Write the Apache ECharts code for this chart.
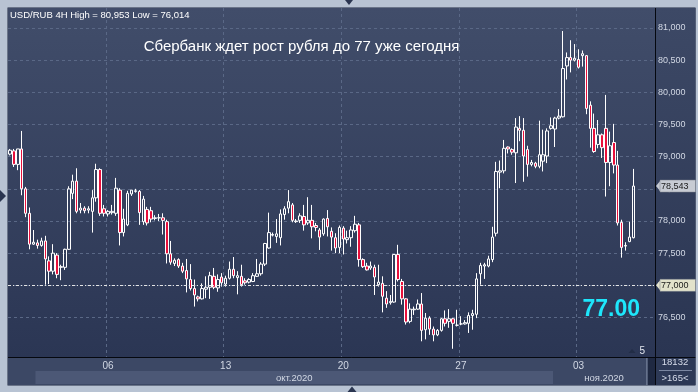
<!DOCTYPE html>
<html><head><meta charset="utf-8">
<script src="https://cdn.jsdelivr.net/npm/echarts@6/dist/echarts.min.js"></script>
<style>html,body{margin:0;padding:0;background:#b8c3d3}#c{width:698px;height:392px}</style>
</head><body><div id="c"></div>
<script>
const opens = [
79.04,79.09,78.88,79.12,78.50,78.12,77.64,77.66,77.62,77.69,
77.38,77.22,77.47,77.28,77.28,77.56,78.43,78.62,78.17,78.20,
78.17,78.15,78.36,78.80,78.19,78.11,78.13,78.12,78.48,77.82,
77.94,78.42,78.46,78.46,77.99,78.18,78.16,78.04,78.05,78.05,
77.99,77.49,77.34,77.40,77.30,77.23,77.09,76.95,76.82,76.79,
76.94,76.97,77.14,76.96,77.13,77.02,77.11,77.25,77.12,77.14,
77.07,77.05,77.06,77.14,77.18,77.33,77.58,77.78,77.76,77.74,
78.10,78.20,78.25,77.99,78.01,78.07,77.97,78.01,77.93,77.86,
77.80,78.04,77.84,77.74,77.59,77.89,77.71,77.74,77.85,77.94,
77.40,77.30,77.27,77.28,77.01,77.03,76.80,76.73,76.74,77.48,
77.06,76.79,76.44,76.62,76.63,76.71,76.31,76.49,76.32,76.23,
76.30,76.48,76.44,76.48,76.38,76.40,76.40,76.41,76.53,76.55,
77.18,77.30,77.30,77.40,77.81,78.76,78.78,79.15,79.11,79.06,
79.44,79.41,79.11,78.88,78.90,78.85,78.93,79.01,79.44,79.43,
79.60,79.62,80.41,80.54,80.50,80.51,80.57,80.57,79.80,79.44,
79.19,79.34,79.44,78.91,79.22,78.87,77.98,77.61,77.68,77.74];
const highs = [
79.12,79.12,79.12,79.40,78.53,78.21,77.86,77.71,77.74,77.77,
77.45,77.64,77.50,77.32,77.57,78.54,78.72,78.82,78.28,78.23,
78.23,78.48,78.89,78.82,78.25,78.17,78.25,78.67,78.51,78.19,
78.47,78.48,78.50,78.48,78.39,78.22,78.22,78.09,78.11,78.12,
78.02,77.69,77.42,77.42,77.35,77.41,77.33,77.09,76.84,77.03,
77.14,77.21,77.27,77.17,77.19,77.15,77.37,77.44,77.22,77.32,
77.11,77.11,77.19,77.41,77.36,77.66,78.13,77.82,78.03,78.18,
78.23,78.48,78.28,78.03,78.12,78.25,78.37,78.25,77.97,77.89,
78.04,78.17,77.90,77.81,77.93,77.92,77.85,77.92,78.08,77.97,
77.42,77.35,77.37,77.32,77.32,77.14,76.91,76.85,77.48,77.63,
77.10,76.80,76.72,76.67,76.78,76.88,76.57,76.52,76.36,76.32,
76.49,76.61,76.63,76.49,76.62,76.52,76.46,76.58,76.62,77.19,
77.35,77.35,77.46,77.91,78.92,78.94,79.26,79.16,79.13,79.60,
79.63,79.60,79.17,78.95,78.92,79.56,79.42,79.44,79.61,79.62,
79.74,80.953,80.62,80.81,80.75,80.67,80.65,80.58,79.86,79.67,
79.57,79.36,79.96,79.39,79.51,79.09,78.02,77.67,77.99,78.81];
const lows = [
79.02,78.84,78.79,78.40,78.06,77.56,77.63,77.57,77.60,77.01,
77.02,77.17,77.11,77.08,77.24,77.55,78.34,78.12,78.12,78.12,
78.12,77.82,78.30,78.08,78.07,78.07,78.10,78.08,77.62,77.76,
77.92,78.39,78.44,77.94,77.94,77.93,77.98,78.01,78.00,77.79,
77.34,77.32,77.30,77.27,77.19,76.89,76.92,76.67,76.75,76.78,
76.80,76.79,76.94,76.90,76.98,76.98,77.09,77.11,76.86,76.98,
77.01,77.03,77.05,77.13,77.15,77.30,77.57,77.76,77.66,77.62,
78.02,78.12,77.98,77.97,77.97,77.85,77.94,77.73,77.84,77.55,
77.77,77.76,77.54,77.50,77.50,77.48,77.65,77.60,77.82,77.29,
77.27,77.23,77.24,76.85,76.98,76.58,76.65,76.70,76.73,77.06,
76.70,76.39,76.41,76.54,76.62,76.13,76.16,76.23,76.13,76.21,
76.28,76.36,76.34,76.014,76.36,76.38,76.39,76.26,76.31,76.49,
77.01,77.10,77.28,77.36,77.76,78.51,78.74,79.05,79.03,78.59,
79.24,78.61,78.69,78.85,78.82,78.82,78.77,78.90,79.42,79.15,
79.58,79.61,80.20,80.31,80.48,80.37,80.40,79.66,79.14,79.06,
79.13,78.98,78.38,78.54,78.74,77.93,77.43,77.54,77.67,77.73];
const closes = [
79.10,78.88,79.12,78.50,78.12,77.64,77.67,77.62,77.69,77.41,
77.22,77.50,77.17,77.29,77.56,78.50,78.62,78.15,78.20,78.16,
78.19,78.36,78.80,78.12,78.12,78.15,78.15,78.51,77.82,78.03,
78.43,78.48,78.47,78.13,78.34,77.97,78.03,78.05,78.05,78.01,
77.49,77.36,77.39,77.30,77.22,77.10,76.95,76.85,76.79,76.95,
76.97,77.15,76.97,77.09,77.04,77.11,77.25,77.15,77.15,77.01,
77.04,77.09,77.15,77.18,77.33,77.65,77.82,77.79,77.80,78.11,
78.19,78.30,78.01,78.00,78.08,77.94,78.01,77.91,77.90,77.75,
78.03,77.91,77.75,77.58,77.90,77.72,77.74,77.86,77.95,77.40,
77.29,77.24,77.30,77.13,77.05,76.83,76.71,76.75,77.48,77.09,
76.79,76.43,76.63,76.63,76.71,76.30,76.49,76.32,76.23,76.30,
76.48,76.41,76.48,76.41,76.38,76.40,76.42,76.53,76.56,77.10,
77.31,77.32,77.41,77.75,78.77,78.78,79.13,79.12,79.07,79.46,
79.41,79.01,78.88,78.91,78.85,79.03,79.03,79.40,79.48,79.60,
79.63,80.37,80.54,80.50,80.53,80.39,80.60,79.75,79.44,79.08,
79.34,79.14,78.91,79.17,78.87,77.97,77.59,77.62,77.75,78.543];

const yTickValues = [76.5,77,77.5,78,78.5,79,79.5,80,80.5,81];
const xTickDates = ['2020-10-06 00:00','2020-10-13 00:00','2020-10-20 00:00','2020-10-27 00:00','2020-11-03 00:00'];
const xTickLabels = ['06','13','20','27','03'];
const monthStarts = ['2020-10-01 00:00','2020-11-02 00:00'];
const monthLabels = ['окт.2020','ноя.2020'];
const dayMarkDate = '2020-11-05 00:00';
const dayMarkLabel = '5';
const slotCount = 165;
const levelValue = 77.0;
const targetText = '77.00';
const titleText = 'Сбербанк ждет рост рубля до 77 уже сегодня';
const symbolText = 'USD/RUB 4H';
const infoTop = '18132';
const infoBottom = '>165<';

// 4H trading-session categories (Mon-Fri)
const categories = [];
(function(){
  let t = Date.UTC(2020, 8, 29, 20);
  const pad = n => (n < 10 ? '0' : '') + n;
  for (let i = 0; i < slotCount; i++) {
    const d = new Date(t);
    categories.push(d.getUTCFullYear() + '-' + pad(d.getUTCMonth()+1) + '-' + pad(d.getUTCDate()) + ' ' + pad(d.getUTCHours()) + ':00');
    t += 4*3600e3;
    while ([0,6].includes(new Date(t).getUTCDay())) t += 4*3600e3;
  }
})();
const tickIdx = xTickDates.map(s => categories.indexOf(s));
const candleData = opens.map((o, i) => [o, closes[i], lows[i], highs[i]]);
const lastPrice = closes[closes.length - 1];
const fmt = v => v.toFixed(3).replace('.', ',');

const FONT = 'Liberation Sans, Arial, sans-serif';
const GRID_L = 8, GRID_T = 8, GRID_W = 647, GRID_H = 349;
const gridColor = '#5a6886';

const staticGraphic = [
  {type:'rect', z:-20, shape:{x:7.5,y:7.5,width:688,height:378}, style:{fill:'#1e2841'}},
  {type:'rect', z:-19, shape:{x:GRID_L,y:GRID_T,width:GRID_W,height:GRID_H},
   style:{fill:new echarts.graphic.LinearGradient(0,0,0,1,[{offset:0,color:'#414d6a'},{offset:1,color:'#2b3654'}])}},
  {type:'rect', z:-19, shape:{x:656,y:8,width:39.5,height:349},
   style:{fill:new echarts.graphic.LinearGradient(0,0,0,1,[{offset:0,color:'#3d4966'},{offset:1,color:'#2a3552'}])}},
  {type:'rect', z:-19, shape:{x:8,y:358,width:647,height:27}, style:{fill:'#3c4865'}},
  {type:'rect', z:-19, shape:{x:656,y:358,width:39.5,height:27}, style:{fill:'#2d3956'}},
  {type:'rect', z:-18, shape:{x:646,y:358,width:1.5,height:27}, style:{fill:'#66728c'}},
  {type:'rect', z:-18, shape:{x:648,y:358,width:7,height:27}, style:{fill:'#1f2942'}},
  {type:'line', z:50, shape:{x1:655.5,y1:8,x2:655.5,y2:385}, style:{stroke:'#05080f',lineWidth:1}},
  {type:'line', z:50, shape:{x1:8,y1:357.5,x2:695.5,y2:357.5}, style:{stroke:'#05080f',lineWidth:1}},
  {type:'line', z:50, shape:{x1:659,y1:370.5,x2:692,y2:370.5}, style:{stroke:'#7b87a1',lineWidth:1}},
  {type:'polygon', z:50, shape:{points:[[345,0],[353,0],[349,5]]}, style:{fill:'#2a3550'}},
  {type:'polygon', z:50, shape:{points:[[347.5,392],[356.5,392],[352,386.5]]}, style:{fill:'#2a3550'}},
  {type:'polygon', z:50, shape:{points:[[0,190],[0,202],[6,196]]}, style:{fill:'#2a3550'}},
  {type:'text', z:60, x:10, y:15, style:{text:symbolText + ' High = ' + fmt(Math.max(...highs)) + ' Low = ' + fmt(Math.min(...lows)),
     fill:'#ffffff', font:'9.5px ' + FONT, verticalAlign:'middle'}},
  {type:'text', z:60, x:301.5, y:47, style:{text:titleText, fill:'#ffffff', font:'15px ' + FONT, align:'center', verticalAlign:'middle'}},
  {type:'text', z:60, x:640, y:310, style:{text:targetText, fill:'#1ee6fb', font:'bold 23px ' + FONT, align:'right', verticalAlign:'middle'}},
  {type:'text', z:60, x:675, y:362, style:{text:infoTop, fill:'#d6dcea', font:'9.5px ' + FONT, align:'center', verticalAlign:'middle'}},
  {type:'text', z:60, x:675, y:378, style:{text:infoBottom, fill:'#d6dcea', font:'9.5px ' + FONT, align:'center', verticalAlign:'middle'}}
];

const option = {
  animation: false,
  backgroundColor: '#b8c3d3',
  textStyle: {fontFamily: FONT},
  grid: {left: GRID_L, top: GRID_T, width: GRID_W, height: GRID_H, containLabel: false},
  xAxis: {
    type: 'category', data: categories, boundaryGap: true,
    axisLine: {show: false}, axisTick: {show: false},
    axisLabel: {
      interval: (i) => tickIdx.includes(i),
      formatter: (v, i) => { const k = tickIdx.indexOf(i); return k >= 0 ? xTickLabels[k] : ''; },
      color: '#d2d8e4', fontSize: 10, margin: 4, fontFamily: FONT
    },
    splitLine: {show: true, interval: (i) => tickIdx.includes(i), lineStyle: {color: gridColor, type: [3,3], width: 1}}
  },
  yAxis: {
    type: 'value', position: 'right', min: 75.886, max: 81.311, splitNumber: 10, minInterval: 0.5, maxInterval: 0.5,
    axisLine: {show: false}, axisTick: {show: false}, splitLine: {show: false},
    axisLabel: {
      margin: 3, color: '#d2d8e4', fontSize: 9, fontFamily: FONT,
      formatter: (v) => yTickValues.some(t => Math.abs(t - v) < 1e-6) ? fmt(v) : ''
    }
  },
  series: [
    {
      type: 'line', data: [], z: 1, silent: true,
      markLine: {
        silent: true, symbol: 'none', z: 1, animation: false,
        label: {show: false},
        lineStyle: {color: gridColor, type: [3,3], width: 1},
        data: yTickValues.map(v => ({yAxis: v}))
      }
    },
    {
      type: 'candlestick', data: candleData, z: 3, barWidth: 3,
      itemStyle: {
        color: 'rgba(0,0,0,0)', color0: '#e8103c',
        borderColor: '#ffffff', borderColor0: '#ffffff', borderColorDoji: '#ffffff', borderWidth: 1
      },
      markLine: {
        silent: true, symbol: 'none', z: 4, animation: false,
        label: {show: false},
        lineStyle: {color: '#e4e4e4', type: [3,2,1,2], width: 1},
        data: [{yAxis: levelValue}]
      }
    }
  ],
  graphic: staticGraphic
};

const chart = echarts.init(document.getElementById('c'), null, {width: 698, height: 392});
chart.setOption(option);

// data-driven decorations (month band, price tags, day marker)
const bw = GRID_W / slotCount;
const xAt = i => chart.convertToPixel({xAxisIndex: 0}, i);
const yAt = v => chart.convertToPixel({yAxisIndex: 0}, v);
const extra = [];
const mIdx = monthStarts.map(s => categories.indexOf(s));
const bandEdges = mIdx.map(i => xAt(i) - bw / 2).concat([xAt(slotCount - 1) + bw / 2]);
extra.push({type:'rect', z:-17, shape:{x:bandEdges[0], y:371, width:bandEdges[1]-bandEdges[0], height:13}, style:{fill:'#4c5876'}});
monthLabels.forEach((lab, k) => {
  extra.push({type:'text', z:60, x:(bandEdges[k]+bandEdges[k+1])/2, y:378, style:{text:lab, fill:'#d2d8e4', font:'9.5px ' + FONT, align:'center', verticalAlign:'middle'}});
});
function priceTag(v, fill) {
  const y = yAt(v);
  extra.push({type:'polygon', z:60, shape:{points:[[656,y],[660.5,y-5.5],[660.5,y+5.5]]}, style:{fill:fill}});
  extra.push({type:'rect', z:60, shape:{x:660,y:y-6,width:35.5,height:12}, style:{fill:fill, stroke:'#7d828c', lineWidth:0.5}});
  extra.push({type:'text', z:61, x:661, y:y, style:{text:fmt(v), fill:'#1a1a1a', font:'9px ' + FONT, verticalAlign:'middle'}});
}
priceTag(lastPrice, '#c7cbd3');
priceTag(levelValue, '#e2e2cb');
const dm = xAt(categories.indexOf(dayMarkDate));
extra.push({type:'polygon', z:60, shape:{points:[[dm+3,353],[dm+10,353],[dm+6.5,349]]}, style:{fill:'#222d46'}});
extra.push({type:'text', z:60, x:dm+14, y:351, style:{text:dayMarkLabel, fill:'#e2e6ee', font:'10px ' + FONT, verticalAlign:'middle'}});
chart.setOption({graphic: staticGraphic.concat(extra)});
</script>
</body></html>
